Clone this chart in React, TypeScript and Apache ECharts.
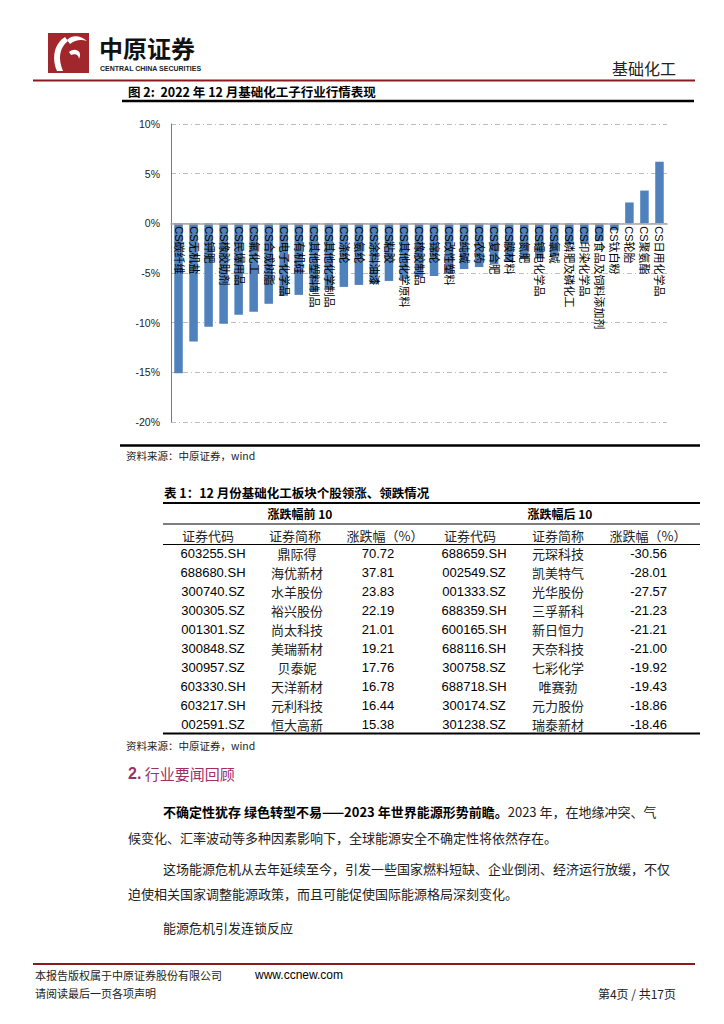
import React, { useEffect, useRef } from "react";
import * as echarts from "echarts";

const categories = [
  "CS碳纤维", "CS无机盐", "CS钾肥", "CS橡胶助剂", "CS民爆用品", "CS氟化工", "CS合成树脂",
  "CS电子化学品", "CS有机硅", "CS其他塑料制品", "CS其他化学制品", "CS涤纶", "CS氨纶",
  "CS涂料油漆", "CS粘胶", "CS其他化学原料", "CS橡胶制品", "CS锦纶", "CS改性塑料", "CS纯碱",
  "CS农药", "CS复合肥", "CS膜材料", "CS氮肥", "CS锂电化学品", "CS氯碱", "CS磷肥及磷化工",
  "CS印染化学品", "CS食品及饲料添加剂", "CS钛白粉", "CS轮胎", "CS聚氨酯", "CS日用化学品",
];
const values = [
  -15.1, -11.9, -10.4, -10.1, -9.2, -8.9, -8.1,
  -7.3, -7.2, -6.9, -6.6, -6.4, -6.2,
  -6.1, -5.8, -5.6, -5.4, -5.3, -5.1, -4.6,
  -4.4, -4.1, -3.9, -3.6, -3.5, -3.3, -2.1,
  -2.0, -1.8, -0.7, 2.1, 3.3, 6.2,
];
const yMin = -20;
const yMax = 10;
const yStep = 5;

const topCodes = ["603255.SH", "688680.SH", "300740.SZ", "300305.SZ", "001301.SZ", "300848.SZ", "300957.SZ", "603330.SH", "603217.SH", "002591.SZ"];
const topNames = ["鼎际得", "海优新材", "水羊股份", "裕兴股份", "尚太科技", "美瑞新材", "贝泰妮", "天洋新材", "元利科技", "恒大高新"];
const topPct = ["70.72", "37.81", "23.83", "22.19", "21.01", "19.21", "17.76", "16.78", "16.44", "15.38"];
const bottomCodes = ["688659.SH", "002549.SZ", "001333.SZ", "688359.SH", "600165.SH", "688116.SH", "300758.SZ", "688718.SH", "300174.SZ", "301238.SZ"];
const bottomNames = ["元琛科技", "凯美特气", "光华股份", "三孚新科", "新日恒力", "天奈科技", "七彩化学", "唯赛勃", "元力股份", "瑞泰新材"];
const bottomPct = ["-30.56", "-28.01", "-27.57", "-21.23", "-21.21", "-21.00", "-19.92", "-19.43", "-18.86", "-18.46"];
const tableHeaders = ["证券代码", "证券简称", "涨跌幅（%）", "证券代码", "证券简称", "涨跌幅（%）"];

const CJK = "'Noto Sans CJK SC'";
const LAT = "'Liberation Sans', 'Noto Sans CJK SC'";

function txt(x: number, y: number, text: string, font: string, fill = "#000", align = "left") {
  return {
    type: "text",
    x,
    y,
    z: 10,
    style: { text, font, fill, textAlign: align, textVerticalAlign: "middle" },
  };
}
function hline(x1: number, x2: number, y: number, w: number, color = "#000") {
  return { type: "line", z: 10, shape: { x1, y1: y, x2, y2: y }, style: { stroke: color, lineWidth: w } };
}

export default function App() {
  const ref = useRef<HTMLDivElement>(null);
  useEffect(() => {
    echarts.graphic.registerShape(
      "logo",
      echarts.graphic.extendPath(
        "M17 4 C7 10 3 24 9 38 L15 38 C10 26 11 15 20 8 Z M19 7 C25 1 33 3 39 8 C33 6 27 7 22 11 Z M21 19 C27 14 35 18 31 26 C31 22 27 20 23 22 Z",
        {}
      ) as any
    );
    const chart = echarts.init(ref.current!, null, { renderer: "svg" });

    const gridTop = 124;
    const gridBottomY = 422;
    const zeroY = gridTop + ((yMax - 0) / (yMax - yMin)) * (gridBottomY - gridTop);
    const xAxisOffset = -(gridBottomY - zeroY);

    const graphics: any[] = [];
    // header
    graphics.push({ type: "rect", z: 10, shape: { x: 48, y: 33, width: 41, height: 40 }, style: { fill: "#A0282D" } });
    graphics.push({ type: "logo", z: 11, x: 48, y: 33, scaleX: 1, scaleY: 1, style: { fill: "#fff" } });
    graphics.push(txt(99, 47, "中原证券", `bold 24px ${CJK}`, "#111"));
    graphics.push(txt(100, 68.5, "CENTRAL CHINA SECURITIES", `bold 7px ${LAT}`, "#222"));
    graphics.push(txt(676, 68, "基础化工", `16px ${CJK}`, "#222", "right"));
    graphics.push(hline(33, 695, 80.5, 2, "#8B1A1E"));
    graphics.push(txt(128, 91, "图 2:  2022 年 12 月基础化工子行业行情表现", `bold 12.5px ${CJK}`, "#000"));
    graphics.push(hline(122, 694, 101, 2.5));
    graphics.push(hline(120, 700, 445.5, 2.5));
    graphics.push(txt(126, 455, "资料来源：中原证券，wind", `10.5px ${CJK}`, "#222"));

    // table
    graphics.push(txt(164, 492, "表 1：12 月份基础化工板块个股领涨、领跌情况", `bold 12.5px ${CJK}`, "#000"));
    graphics.push(hline(163, 700, 503, 2));
    graphics.push(txt(300, 513, "涨跌幅前 10", `bold 12px ${CJK}`, "#000", "center"));
    graphics.push(txt(560, 513, "涨跌幅后 10", `bold 12px ${CJK}`, "#000", "center"));
    graphics.push(hline(163, 700, 524, 1));
    const hx = [208, 295, 385, 470, 558, 648];
    tableHeaders.forEach((h, i) => graphics.push(txt(hx[i], 535, h, `13px ${CJK}`, "#222", "center")));
    graphics.push(hline(163, 700, 544.5, 1));
    for (let i = 0; i < topCodes.length; i++) {
      const y = 553 + i * 19;
      graphics.push(txt(213, y, topCodes[i], `13px ${LAT}`, "#000", "center"));
      graphics.push(txt(297, y, topNames[i], `13px ${CJK}`, "#222", "center"));
      graphics.push(txt(378, y, topPct[i], `13px ${LAT}`, "#000", "center"));
      graphics.push(txt(474, y, bottomCodes[i], `13px ${LAT}`, "#000", "center"));
      graphics.push(txt(558, y, bottomNames[i], `13px ${CJK}`, "#222", "center"));
      graphics.push(txt(667, y, bottomPct[i], `13px ${LAT}`, "#000", "right"));
    }
    graphics.push(hline(163, 700, 733.5, 2));
    graphics.push(txt(126, 745, "资料来源：中原证券，wind", `10.5px ${CJK}`, "#222"));

    // section
    graphics.push({
      type: "text", x: 128, y: 773, z: 10,
      style: {
        text: "{a|2.} {b|行业要闻回顾}",
        textVerticalAlign: "middle",
        rich: {
          a: { font: `bold 16px ${LAT}`, fill: "#9E2F65" },
          b: { font: `15px ${CJK}`, fill: "#9E2F65" },
        },
      },
    });
    graphics.push({
      type: "text", x: 163, y: 811, z: 10,
      style: {
        text: "{b|不确定性犹存 绿色转型不易——2023 年世界能源形势前瞻。}{n|2023 年，在地缘冲突、气}",
        textVerticalAlign: "middle",
        rich: {
          b: { font: `bold 13px ${CJK}`, fill: "#000" },
          n: { font: `13px ${CJK}`, fill: "#222" },
        },
      },
    });
    graphics.push(txt(128, 837, "候变化、汇率波动等多种因素影响下，全球能源安全不确定性将依然存在。", `13px ${CJK}`, "#222"));
    graphics.push(txt(163, 868, "这场能源危机从去年延续至今，引发一些国家燃料短缺、企业倒闭、经济运行放缓，不仅", `13px ${CJK}`, "#222"));
    graphics.push(txt(128, 893, "迫使相关国家调整能源政策，而且可能促使国际能源格局深刻变化。", `13px ${CJK}`, "#222"));
    graphics.push(txt(163, 927, "能源危机引发连锁反应", `13px ${CJK}`, "#222"));

    // footer
    graphics.push(hline(33, 695, 964, 2, "#8B1A1E"));
    graphics.push(txt(35, 975, "本报告版权属于中原证券股份有限公司", `11px ${CJK}`, "#222"));
    graphics.push(txt(255, 975, "www.ccnew.com", `12px ${LAT}`, "#000"));
    graphics.push(txt(35, 993, "请阅读最后一页各项声明", `11px ${CJK}`, "#222"));
    graphics.push(txt(676, 993, "第4页 / 共17页", `12px ${CJK}`, "#222", "right"));

    chart.setOption({
      animation: false,
      backgroundColor: "#fff",
      grid: { left: 171, right: 57, top: gridTop, bottom: 1024 - gridBottomY, containLabel: false },
      xAxis: {
        type: "category",
        data: categories,
        z: 5,
        offset: xAxisOffset,
        axisLine: { onZero: false, lineStyle: { color: "#A6A6A6", width: 1.5 } },
        axisTick: { show: false },
        axisLabel: {
          interval: 0,
          rotate: -90,
          margin: 3,
          color: "#000",
          fontSize: 11,
          fontFamily: LAT,
        },
      },
      yAxis: {
        type: "value",
        min: yMin,
        max: yMax,
        interval: yStep,
        axisLine: { show: true, lineStyle: { color: "#4F81BD", width: 1 } },
        axisTick: { show: false },
        axisLabel: {
          formatter: (v: number) => `${v}%`,
          color: "#222",
          fontSize: 10.5,
          fontFamily: LAT,
          margin: 11,
        },
        splitLine: { lineStyle: { color: "#BDBDBD", type: [5, 3, 1, 3], width: 1 } },
      },
      series: [
        {
          type: "bar",
          data: values,
          barWidth: 8.5,
          itemStyle: { color: "#4F81BD" },
        },
      ],
      graphic: graphics,
    });
    return () => chart.dispose();
  }, []);
  return (
    <div
      ref={ref}
      style={{ position: "absolute", left: 0, top: 0, width: 724, height: 1024, background: "#fff" }}
    />
  );
}
